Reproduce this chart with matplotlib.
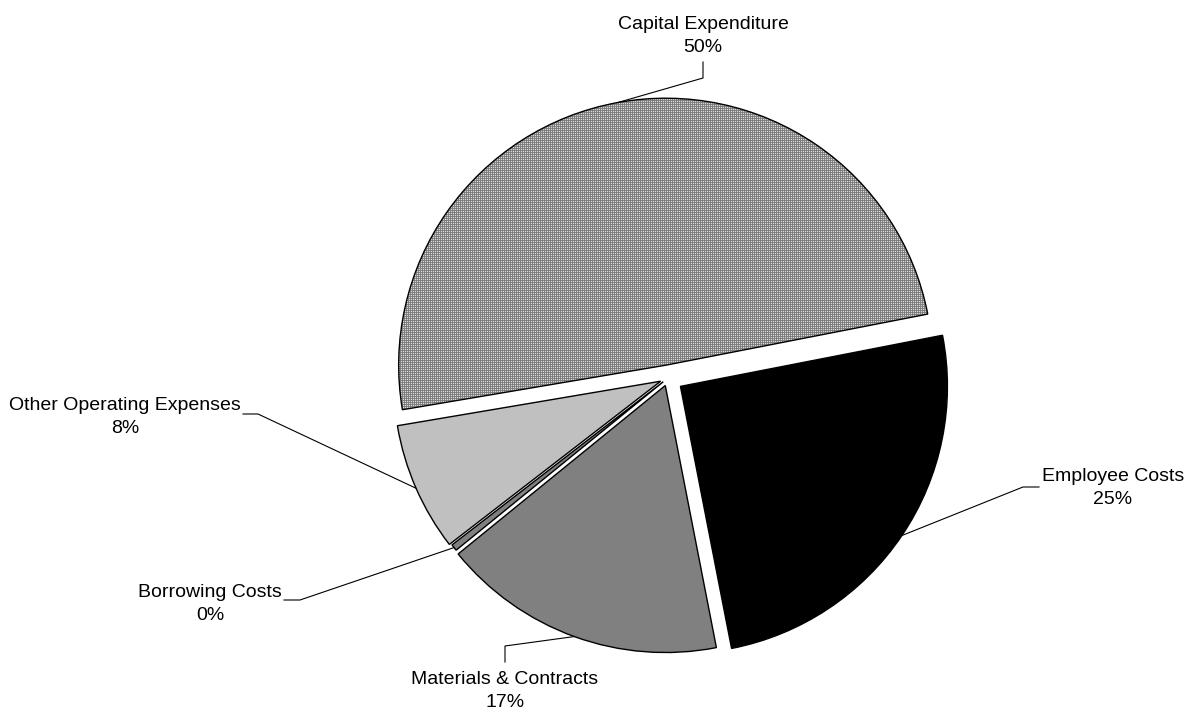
import matplotlib
matplotlib.use("Agg")
import matplotlib.pyplot as plt
import numpy as np

plt.rcParams['font.family'] = ['Liberation Sans', 'DejaVu Sans']

# =========================
# Data
# =========================
categories = ["Capital Expenditure", "Employee Costs", "Materials & Contracts",
              "Borrowing Costs", "Other Operating Expenses"]
shares = [49.6, 25.0, 17.2, 0.4, 7.8]
colors = ["#808080", "#000000", "#808080", "#808080", "#c0c0c0"]
explode_px = [13, 15, 8, 6, 8]   # slice pull-out, in pixels

# label layout (image pixel coords): text centre, elbow, label-side end of leader
label_pos = [(703, 36), (1113, 488), (505, 691), (210, 604), (125, 417)]
leader_mid = [(703, 78), (1023, 487), (505, 646), (300, 600), (258, 414)]
leader_end = [(703, 62), (1039, 487), (505, 662), (284, 600), (243, 414)]

W, H = 1193, 711
cx, cy = 668, 378
radius = 267

# =========================
# Plot
# =========================
fig = plt.figure(figsize=(W / 100, H / 100), dpi=100)
ax = fig.add_axes([0, 0, 1, 1])

wedges, _ = ax.pie(shares, colors=colors, explode=explode_px, startangle=189.6,
                   counterclock=False, radius=radius, center=(cx, H - cy),
                   wedgeprops=dict(edgecolor="black", linewidth=1.0),
                   normalize=True)

# 50% grey pattern fill on the capital slice (Excel style)
tile = np.array([[0.47, 0.52], [0.52, 0.85]])
pattern = np.tile(tile, (H // 2 + 1, W // 2 + 1))[:H, :W]
img = ax.imshow(pattern, cmap="gray", vmin=0, vmax=1, extent=(0, W, 0, H),
                interpolation="nearest", zorder=wedges[0].get_zorder() + 0.5)
img.set_clip_path(wedges[0])
wedges[0].set_facecolor("none")
wedges[0].set_zorder(img.get_zorder() + 0.5)

for w, name, v, lp, lm, le in zip(wedges, categories, shares,
                                  label_pos, leader_mid, leader_end):
    ang = np.deg2rad((w.theta1 + w.theta2) / 2)
    px = w.center[0] + w.r * np.cos(ang)
    py = w.center[1] + w.r * np.sin(ang)
    ax.plot([px, lm[0], le[0]], [py, H - lm[1], H - le[1]],
            color="black", linewidth=0.8)
    ax.text(lp[0], H - lp[1], f"{name}\n{round(v)}%", ha="center",
            va="center", fontsize=14, linespacing=1.4)

ax.set_xlim(0, W)
ax.set_ylim(0, H)
ax.set_aspect("equal")
ax.axis("off")

fig.savefig("out.png", dpi=100, facecolor="white")
